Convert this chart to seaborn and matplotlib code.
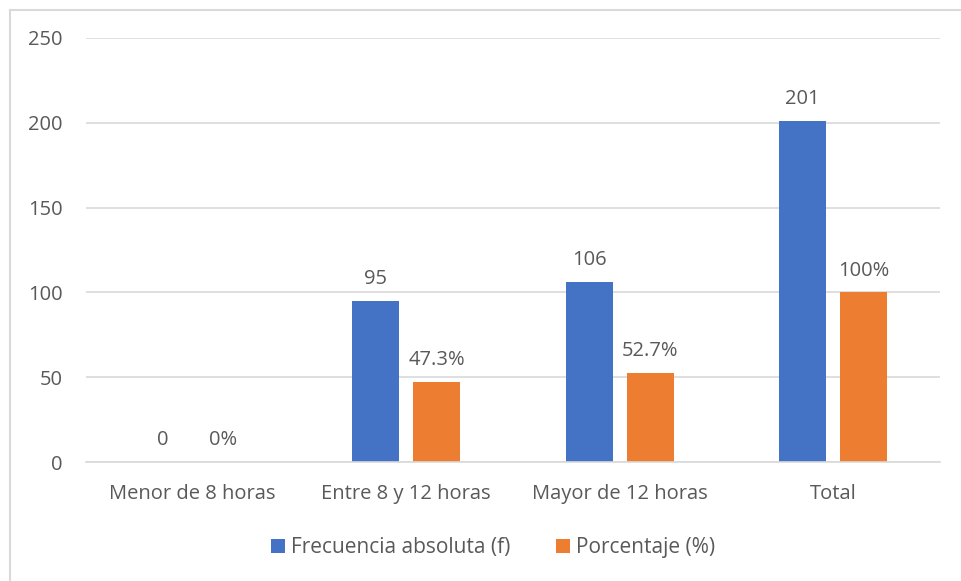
import matplotlib
matplotlib.use("Agg")
import matplotlib.pyplot as plt
from matplotlib.lines import Line2D
from matplotlib.patches import Patch
import seaborn as sns
import pandas as pd

categories = ["Menor de 8 horas", "Entre 8 y 12 horas", "Mayor de 12 horas", "Total"]
frecuencia = [0, 95, 106, 201]
porcentaje = [0, 47.3, 52.7, 100]
frecuencia_labels = ["0", "95", "106", "201"]
porcentaje_labels = ["0%", "47.3%", "52.7%", "100%"]
series_names = ["Frecuencia absoluta (f)", "Porcentaje (%)"]
y_ticks = [0, 50, 100, 150, 200, 250]

colors = ["#4472C4", "#ED7D31"]
text_color = "#595959"
grid_color = "#D9D9D9"
fs = 14.5

df = pd.DataFrame({
    "categoria": categories * 2,
    "serie": [series_names[0]] * 4 + [series_names[1]] * 4,
    "valor": frecuencia + porcentaje,
})

sns.set_theme(style="white")
plt.rcParams["font.family"] = ["Open Sans", "DejaVu Sans"]

fig = plt.figure(figsize=(9.61, 5.81), dpi=100)
ax = fig.add_axes([0.0895, 0.2048, 0.8885, 0.7298])

sns.barplot(data=df, x="categoria", y="valor", hue="serie", order=categories,
            hue_order=series_names, palette=colors, width=0.57, gap=0.228,
            saturation=1, ax=ax, legend=False, errorbar=None, linewidth=0)

ax.set_ylim(0, 250)
ax.set_xlim(-0.5, 3.5)
ax.set_yticks(y_ticks)
ax.set_yticklabels([str(t) for t in y_ticks])
ax.yaxis.grid(True, color=grid_color, linewidth=1.2)
ax.set_axisbelow(True)
for s in ["top", "right", "left"]:
    ax.spines[s].set_visible(False)
ax.spines["bottom"].set_color(grid_color)
ax.spines["bottom"].set_linewidth(1.2)
ax.set_xlabel("")
ax.set_ylabel("")
ax.tick_params(axis="y", length=0, pad=17, labelsize=fs, labelcolor=text_color)
ax.tick_params(axis="x", length=0, pad=16, labelsize=fs, labelcolor=text_color)

# value labels above each bar
for container, labels in zip(ax.containers, [frecuencia_labels, porcentaje_labels]):
    ax.bar_label(container, labels=labels, padding=8.5, fontsize=fs, color=text_color)

handles = [Patch(facecolor=c, edgecolor="none") for c in colors]
fig.legend(handles, series_names, loc="center", bbox_to_anchor=(0.513, 0.057),
           ncol=2, frameon=False, fontsize=15, labelcolor=text_color,
           handlelength=0.65, handleheight=0.65, handletextpad=0.3, columnspacing=2.2)

# chart area outline
fig.add_artist(Line2D([9.5 / 961, 9.5 / 961], [0, 1 - 9.5 / 581], transform=fig.transFigure,
                      color="#D9D9D9", linewidth=1.5))
fig.add_artist(Line2D([9.5 / 961, 1], [1 - 9.5 / 581, 1 - 9.5 / 581], transform=fig.transFigure,
                      color="#D9D9D9", linewidth=1.5))

fig.savefig("out.png", dpi=100, facecolor="white")
